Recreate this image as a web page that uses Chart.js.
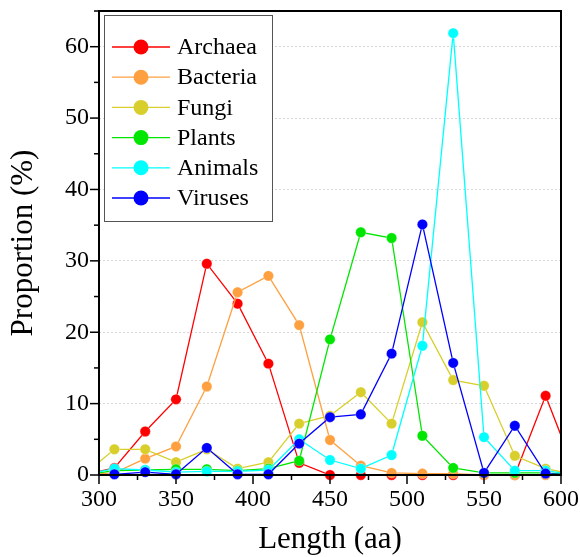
<!DOCTYPE html>
<html>
<head>
<meta charset="utf-8">
<script src="https://cdn.jsdelivr.net/npm/chart.js@4"></script>
<style>
  html, body { margin: 0; padding: 0; background: #fff; }
  #wrap { width: 580px; height: 557px; }
</style>
</head>
<body>
<div id="wrap"><canvas id="chart" width="580" height="557"></canvas></div>
<script>
// Longitudes (aa); 290 y 610 solo sirven para que las líneas lleguen al borde
const lengths = [290, 310, 330, 350, 370, 390, 410, 430, 450, 470, 490, 510, 530, 550, 570, 590, 610];

const archaea  = [0, 1.0, 6.1, 10.6, 29.6, 24.0, 15.6, 1.7, 0, 0, 0, 0, 0, 0, 0, 11.1, 0];
const bacteria = [0, 0.3, 2.3, 4.0, 12.4, 25.6, 27.9, 21.0, 4.9, 1.3, 0.3, 0.2, 0.2, 0, 0, 0, 0];
const fungi    = [0, 3.6, 3.6, 1.8, 3.6, 0.9, 1.8, 7.2, 8.3, 11.6, 7.2, 21.4, 13.3, 12.5, 2.7, 0.9, 0];
const plants   = [0, 0.6, 0.7, 0.8, 0.8, 0.6, 0.9, 2.0, 19.0, 34.0, 33.2, 5.5, 1.0, 0.3, 0.3, 0.3, 0];
const animals  = [0, 0.9, 0.7, 0.4, 0.5, 0.5, 0.7, 5.0, 2.1, 0.9, 2.8, 18.1, 61.9, 5.3, 0.6, 0.6, 0];
const viruses  = [0, 0.1, 0.4, 0.1, 3.8, 0.1, 0.1, 4.4, 8.1, 8.5, 17.0, 35.1, 15.7, 0.3, 6.9, 0.2, 0];

const seriesNames  = ['Archaea', 'Bacteria', 'Fungi', 'Plants', 'Animals', 'Viruses'];
const seriesValues = [archaea, bacteria, fungi, plants, animals, viruses];
const seriesColors = ['#ff0000', '#ffa040', '#d8cf2c', '#00e600', '#00ffff', '#0000ff'];

const yTicks = [0, 10, 20, 30, 40, 50, 60];
const xTicks = [300, 350, 400, 450, 500, 550, 600];

const serif = '"Liberation Serif", "Times New Roman", serif';

const datasets = seriesNames.map((name, i) => ({
    label: name,
    data: lengths.map((x, j) => ({ x: x, y: seriesValues[i][j] })),
    borderColor: seriesColors[i],
    backgroundColor: seriesColors[i],
    borderWidth: 1.3,
    pointBackgroundColor: seriesColors[i],
    pointBorderColor: 'rgba(255,255,255,0.5)',
    pointBorderWidth: 0.6,
    pointRadius: ctx => (ctx.raw && (ctx.raw.x < 300 || ctx.raw.x > 600)) ? 0 : 5.2,
    pointHoverRadius: 5.2,
    tension: 0,
    order: seriesNames.length - i,   // las últimas series quedan encima
    clip: { left: 0, right: 0, top: false, bottom: false }
}));

// Marco, marcas de ejes, títulos y leyenda
const decorPlugin = {
    id: 'decor',
    afterDraw(chart) {
        const ctx = chart.ctx;
        const a = chart.chartArea;
        const xs = chart.scales.x, ys = chart.scales.y;
        ctx.save();

        // marcas del eje x
        ctx.strokeStyle = '#000';
        ctx.lineWidth = 1.5;
        for (let v = 300; v <= 600; v += 25) {
            const px = xs.getPixelForValue(v);
            const len = (v % 50 === 0) ? 9 : 5;
            ctx.beginPath();
            ctx.moveTo(px, a.bottom);
            ctx.lineTo(px, a.bottom + len);
            ctx.stroke();
        }
        // marcas del eje y
        for (let v = 0; v <= 65; v += 5) {
            const py = ys.getPixelForValue(v);
            const len = (v % 10 === 0) ? 9 : 5;
            ctx.beginPath();
            ctx.moveTo(a.left, py);
            ctx.lineTo(a.left - len, py);
            ctx.stroke();
        }

        // marco
        ctx.lineWidth = 2;
        ctx.strokeRect(a.left, a.top, a.right - a.left, a.bottom - a.top);

        // títulos
        ctx.fillStyle = '#000';
        ctx.font = '31px ' + serif;
        ctx.textAlign = 'center';
        ctx.textBaseline = 'middle';
        ctx.fillText('Length (aa)', (a.left + a.right) / 2, 540);
        ctx.save();
        ctx.translate(24, (a.top + a.bottom) / 2);
        ctx.rotate(-Math.PI / 2);
        ctx.fillText('Proportion (%)', 0, 0);
        ctx.restore();

        // leyenda
        const bx = a.left + 5, by = a.top + 4, bw = 168, bh = 206;
        ctx.fillStyle = '#fff';
        ctx.fillRect(bx, by, bw, bh);
        ctx.strokeStyle = '#555';
        ctx.lineWidth = 1;
        ctx.strokeRect(bx + 0.5, by + 0.5, bw, bh);
        ctx.font = '24px ' + serif;
        ctx.textAlign = 'left';
        seriesNames.forEach((name, i) => {
            const cy = by + 32 + i * 30.2;
            ctx.strokeStyle = seriesColors[i];
            ctx.lineWidth = 1.3;
            ctx.beginPath();
            ctx.moveTo(bx + 8, cy);
            ctx.lineTo(bx + 66, cy);
            ctx.stroke();
            ctx.fillStyle = seriesColors[i];
            ctx.beginPath();
            ctx.arc(bx + 37, cy, 7.5, 0, Math.PI * 2);
            ctx.fill();
            ctx.fillStyle = '#000';
            ctx.fillText(name, bx + 73, cy + 1);
        });

        ctx.restore();
    }
};

const ctx = document.getElementById('chart').getContext('2d');
const chart = new Chart(ctx, {
    type: 'line',
    data: { datasets: datasets },
    plugins: [decorPlugin],
    options: {
        responsive: false,
        animation: false,
        layout: { padding: { top: 11, right: 19, left: 0, bottom: 0 } },
        plugins: { legend: { display: false }, tooltip: { enabled: false } },
        scales: {
            x: {
                type: 'linear',
                min: 300,
                max: 600,
                afterFit: s => { s.height = 82; s.paddingLeft = 0; s.paddingRight = 0; },
                afterBuildTicks: s => { s.ticks = xTicks.map(v => ({ value: v })); },
                grid: { display: false, drawTicks: false },
                border: { display: false },
                ticks: {
                    padding: 10,
                    color: '#000',
                    font: { family: serif, size: 24 },
                    maxRotation: 0
                }
            },
            y: {
                type: 'linear',
                min: 0,
                max: 65,
                afterFit: s => { s.width = 99; s.paddingTop = 0; s.paddingBottom = 0; },
                afterBuildTicks: s => { s.ticks = yTicks.map(v => ({ value: v })); },
                grid: {
                    drawTicks: false,
                    color: ctx => ctx.tick && ctx.tick.value === 0 ? 'rgba(0,0,0,0)' : '#d6d6d6',
                    lineWidth: 1
                },
                border: { display: false, dash: [2, 2] },
                ticks: {
                    padding: 10,
                    color: '#000',
                    font: { family: serif, size: 24 }
                }
            }
        }
    }
});
</script>
</body>
</html>
